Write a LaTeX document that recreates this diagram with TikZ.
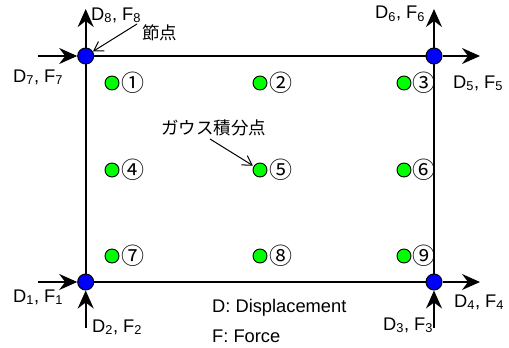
\documentclass[tikz,border=0pt]{standalone}
\usepackage{fontspec}
\setmainfont{Liberation Sans}
\newfontfamily\jp{Noto Sans CJK JP}
\usetikzlibrary{arrows.meta,backgrounds}
\begin{document}
\begin{tikzpicture}[x=1pt,y=-1pt,
  every node/.style={inner sep=0pt, font=\fontsize{18.3}{22}\selectfont},
  nd/.style={circle, fill=blue, draw=black, line width=1pt, minimum size=16pt},
  gp/.style={circle, fill=green, draw=black, line width=0.9pt, minimum size=14pt},
  frame/.style={line width=2.2pt},
  dof/.style={line width=2pt, -{Stealth[length=18pt,width=16pt,inset=6pt]}},
  lbl/.style={anchor=base west},
  num/.style={anchor=west, font=\jp\fontsize{23}{26}\selectfont},
  jtxt/.style={anchor=west, font=\jp\fontsize{17.5}{20}\selectfont},
  pointer/.style={line width=1pt, -{Straight Barb[length=9pt,width=11pt]}},
]
\useasboundingbox (0,0) rectangle (509,348);
% corner nodes
\node[nd] (n1) at (85.7,282) {};
\node[nd] (n2) at (434,282) {};
\node[nd] (n3) at (434,56) {};
\node[nd] (n4) at (85.7,56) {};
% free ends
\coordinate (t8) at (85.7,9);
\coordinate (s7) at (38,56);
\coordinate (t6) at (434,9);
\coordinate (t5) at (480,56);
\coordinate (s1) at (38,282);
\coordinate (s2) at (85.7,328);
\coordinate (t4) at (480,282);
\coordinate (s3) at (434,328);
\begin{scope}[on background layer]
\draw[frame] (n1.center) -- (n2.center) -- (n3.center) -- (n4.center) -- cycle;
\end{scope}
\draw[dof] (n4) -- (t8);
\draw[dof] (s7) -- (n4);
\draw[dof] (n3) -- (t6);
\draw[dof] (n3) -- (t5);
\draw[dof] (s1) -- (n1);
\draw[dof] (s2) -- (n1);
\draw[dof] (n2) -- (t4);
\draw[dof] (s3) -- (n2);
% Gauss points
\node[gp] (g1) at (112,83) {};
\node[gp] (g2) at (260,83) {};
\node[gp] (g3) at (404,83) {};
\node[gp] (g4) at (112,170) {};
\node[gp] (g5) at (260,170) {};
\node[gp] (g6) at (404,170) {};
\node[gp] (g7) at (112,256) {};
\node[gp] (g8) at (260,256) {};
\node[gp] (g9) at (404,256) {};
\node[num] (c1) at ([xshift=2pt]g1.east) {①};
\node[num] (c2) at ([xshift=2pt]g2.east) {②};
\node[num] (c3) at ([xshift=0.5pt]g3.east) {③};
\node[num] (c4) at ([xshift=2pt]g4.east) {④};
\node[num] (c5) at ([xshift=2pt]g5.east) {⑤};
\node[num] (c6) at ([xshift=0.5pt]g6.east) {⑥};
\node[num] (c7) at ([xshift=2pt]g7.east) {⑦};
\node[num] (c8) at ([xshift=2pt]g8.east) {⑧};
\node[num] (c9) at ([xshift=0.5pt]g9.east) {⑨};
% DOF labels
\node[lbl] (l8) at (91,20) {D\textsubscript{8}, F\textsubscript{8}};
\node[lbl] (l7) at (13,82) {D\textsubscript{7}, F\textsubscript{7}};
\node[lbl] (l6) at (375,19) {D\textsubscript{6}, F\textsubscript{6}};
\node[lbl] (l5) at (453,88) {D\textsubscript{5}, F\textsubscript{5}};
\node[lbl] (l1) at (13,302) {D\textsubscript{1}, F\textsubscript{1}};
\node[lbl] (l2) at (92,332) {D\textsubscript{2}, F\textsubscript{2}};
\node[lbl] (l3) at (383,330) {D\textsubscript{3}, F\textsubscript{3}};
\node[lbl] (l4) at (454,307) {D\textsubscript{4}, F\textsubscript{4}};
\node[lbl] (leg1) at (212,312) {D: Displacement};
\node[lbl] (leg2) at (212,342) {F: Force};
% annotations
\node[jtxt] (node) at (142,33) {節点};
\coordinate (p1) at (137,24);
\draw[pointer] (p1) -- (n4);
\node[jtxt] (gauss) at (161,128) {ガウス積分点};
\coordinate (p2) at (210,139);
\draw[pointer, shorten >=1pt] (p2) -- (g5);
\end{tikzpicture}
\end{document}
